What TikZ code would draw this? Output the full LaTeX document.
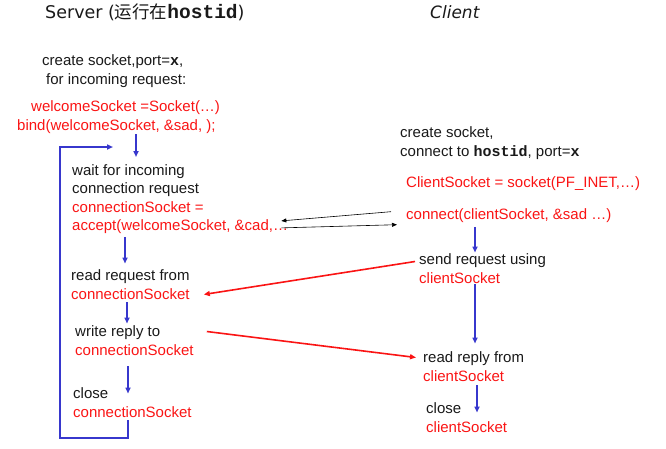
\documentclass[tikz,border=0pt]{standalone}
\usepackage{fontspec}
\setmainfont{Liberation Sans}
\newfontfamily\cjkfont{Noto Sans CJK SC}
\newfontfamily\titlefont{DejaVu Sans}
\newfontfamily\codefont{Liberation Mono}
\usetikzlibrary{
    arrows.meta,
    calc
}
\definecolor{sockred}{RGB}{250,20,20}
\definecolor{flowblue}{RGB}{55,55,205}
\definecolor{textgray}{RGB}{25,25,25}
\newcommand\hostid{{\codefont\bfseries hostid}}
\newcommand\portx{{\codefont\bfseries x}}
\newcommand\red[1]{\textcolor{sockred}{#1}}
\tikzset{
    % Colors
    nice red/.style={sockred},
    nice blue/.style={flowblue},
    %
    % Text
    step text/.style={anchor=north west,inner sep=0pt,align=left,text=textgray,
        font=\fontsize{15}{18.5}\selectfont},
    title text/.style={anchor=base west,inner sep=0pt,text=textgray,
        font=\titlefont\fontsize{17.5}{20}\selectfont},
    %
    % Arrows
    arrow tip/.tip={Triangle[length=6pt,width=5pt]},
    flow/.style={nice blue,line width=1.7pt,-{arrow tip}},
    reqline/.style={nice red,line width=1.6pt,-{arrow tip}},
    syncline/.style={black,line width=0.6pt,-{Triangle[length=5pt,width=4pt]}}
}

\begin{document}
\begin{tikzpicture}[x=1pt,y=-1pt]
        \useasboundingbox (0,0) rectangle (666,448);
        % titles
        \node[title text] (server) at (45,18) {Server ({\cjkfont 运行在}{\fontsize{19.5}{20}\selectfont\hostid})};
        \node[title text,font=\titlefont\itshape\fontsize{17}{20}\selectfont] (client) at (430,18) {Client};
        %
        % server side
        \node[step text] (srvcreate) at (42,54.5) {create socket,port=\portx,\\\hspace*{4pt}for incoming request:};
        \node[step text] (welcome) at (17,100.5) {\hspace*{14pt}\red{welcomeSocket =Socket(\dots)}\\\red{bind(welcomeSocket, \&sad, );}};
        \node[step text] (wait) at (72,164) {wait for incoming\\connection request\\\red{connectionSocket =}\\\red{accept(welcomeSocket, \&cad,\dots}};
        \node[step text] (readreq) at (71,269.5) {read request from\\\red{connectionSocket}};
        \node[step text] (write) at (75,325.5) {write reply to\\\red{connectionSocket}};
        \node[step text] (srvclose) at (73,387.5) {close\\\red{connectionSocket}};
        %
        % client side
        \node[step text] (clicreate) at (400,126.5) {create socket,\\connect to \hostid, port=\portx};
        \node[step text] (clisock) at (406,176.5) {\red{ClientSocket = socket(PF\_INET,\dots)}};
        \node[step text] (connect) at (406,208.5) {\red{connect(clientSocket, \&sad \dots)}};
        \node[step text] (send) at (419,253.5) {send request using\\\red{clientSocket}};
        \node[step text] (readrep) at (423,351.5) {read reply from\\\red{clientSocket}};
        \node[step text] (cliclose) at (426,402.5) {close\\\red{clientSocket}};
        %
        % server flow
        \draw[flow,shorten <=1pt,shorten >=7pt] (welcome.south -| 136,0) -- (wait.north -| 136,0);
        \draw[flow,shorten <=3pt,shorten >=6pt] (wait.south -| 125,0) -- (readreq.north -| 125,0);
        \draw[flow,shorten <=3pt,shorten >=2pt] (readreq.south -| 127,0) -- (write.north -| 127,0);
        \draw[flow,shorten <=11pt,shorten >=-6pt] (write.south -| 128,0) -- (srvclose.north -| 128,0);
        \coordinate (looptop) at (113,147);
        \draw[flow,shorten <=3pt] (srvclose.south -| 128,0) |- (60,438) |- (looptop);
        %
        % client flow
        \draw[flow,shorten <=4pt,shorten >=1pt] (connect.south -| 475,0) -- (send.north -| 475,0);
        \draw[flow,shorten <=1pt,shorten >=8pt] (send.south -| 475,0) -- (readrep.north -| 475,0);
        \draw[flow,shorten <=4pt,shorten >=-10pt] (readrep.south -| 477,0) -- (cliclose.north -| 477,0);
        %
        % messages
        \draw[syncline] ($(connect.west)+(-15,-4)$) -- ($(wait.south east)+(-7,-13)$);
        \draw[syncline] ($(wait.south east)+(-7,-6)$) -- ($(connect.west)+(-9,9)$);
        \draw[reqline] ($(send.north west)+(-4,8)$) -- ($(readreq.east)+(14,10)$);
        \draw[reqline] ($(write.north east)+(13,6)$) -- ($(readrep.north west)+(-7,6)$);
    \end{tikzpicture}
\end{document}
